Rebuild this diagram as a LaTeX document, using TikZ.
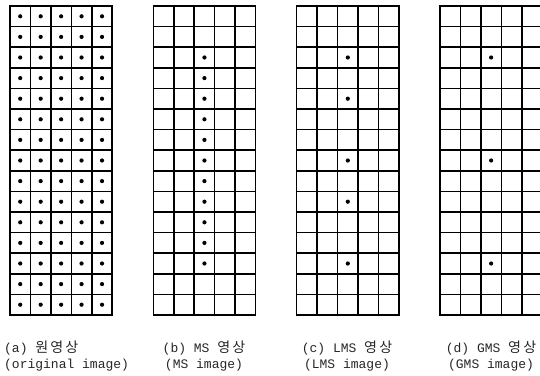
\documentclass[tikz,border=0pt]{standalone}
\usepackage{fontspec}
\setmonofont{Liberation Mono}
\newfontfamily\korfont[LetterSpace=15,Scale=1.08]{Noto Sans CJK KR}
\usepackage{tikz}

\begin{document}
\begin{tikzpicture}[
  x=1pt, y=-1pt,
  cellunit/.style={x=20.45pt, y=20.6pt},
  gridline/.style={line width=1.5pt, line cap=rect, step=1},
  pix/.style={fill=black},
  lbl/.style={font=\ttfamily\fontsize{13}{16.5}\selectfont, inner sep=0pt,
              text=black!85}
]
%% page frame
\useasboundingbox (0,0) rectangle (540,375);
%% (a) original image: every cell has a pixel
\begin{scope}[shift={(10,6)}, cellunit]
  \draw[gridline] (0,-15) grid (5,0);
  \foreach \c in {1,...,5}
    \foreach \r in {1,...,15}
      \fill[pix] (\c-0.5,0.5-\r) circle[radius=2.1pt];
\end{scope}
%% (b) MS image: middle column, rows 3..13
\begin{scope}[shift={(153.3,6)}, cellunit]
  \draw[gridline] (0,-15) grid (5,0);
  \foreach \r in {3,...,13}
    \fill[pix] (2.5,0.5-\r) circle[radius=2.1pt];
\end{scope}
%% (c) LMS image
\begin{scope}[shift={(296.7,6)}, cellunit]
  \draw[gridline] (0,-15) grid (5,0);
  \foreach \r in {3,5,8,10,13}
    \fill[pix] (2.5,0.5-\r) circle[radius=2.1pt];
\end{scope}
%% (d) GMS image (runs past the right edge)
\begin{scope}[shift={(440,6)}, cellunit]
  \draw[gridline] (0,-15) grid (5,0);
  \foreach \r in {3,8,13}
    \fill[pix] (2.5,0.5-\r) circle[radius=2.1pt];
\end{scope}
%% captions
\node[lbl, align=left, anchor=west] (cap_a) at (4,356)
    {(a) {\korfont 원영상}\\(original image)};
\node[lbl, align=center] (cap_b) at (204,356)
    {(b) MS {\korfont 영상}\\(MS image)};
\node[lbl, align=center] (cap_c) at (347,356)
    {(c) LMS {\korfont 영상}\\(LMS image)};
\node[lbl, align=center] (cap_d) at (491,356)
    {(d) GMS {\korfont 영상}\\(GMS image)};
\end{tikzpicture}
\end{document}
